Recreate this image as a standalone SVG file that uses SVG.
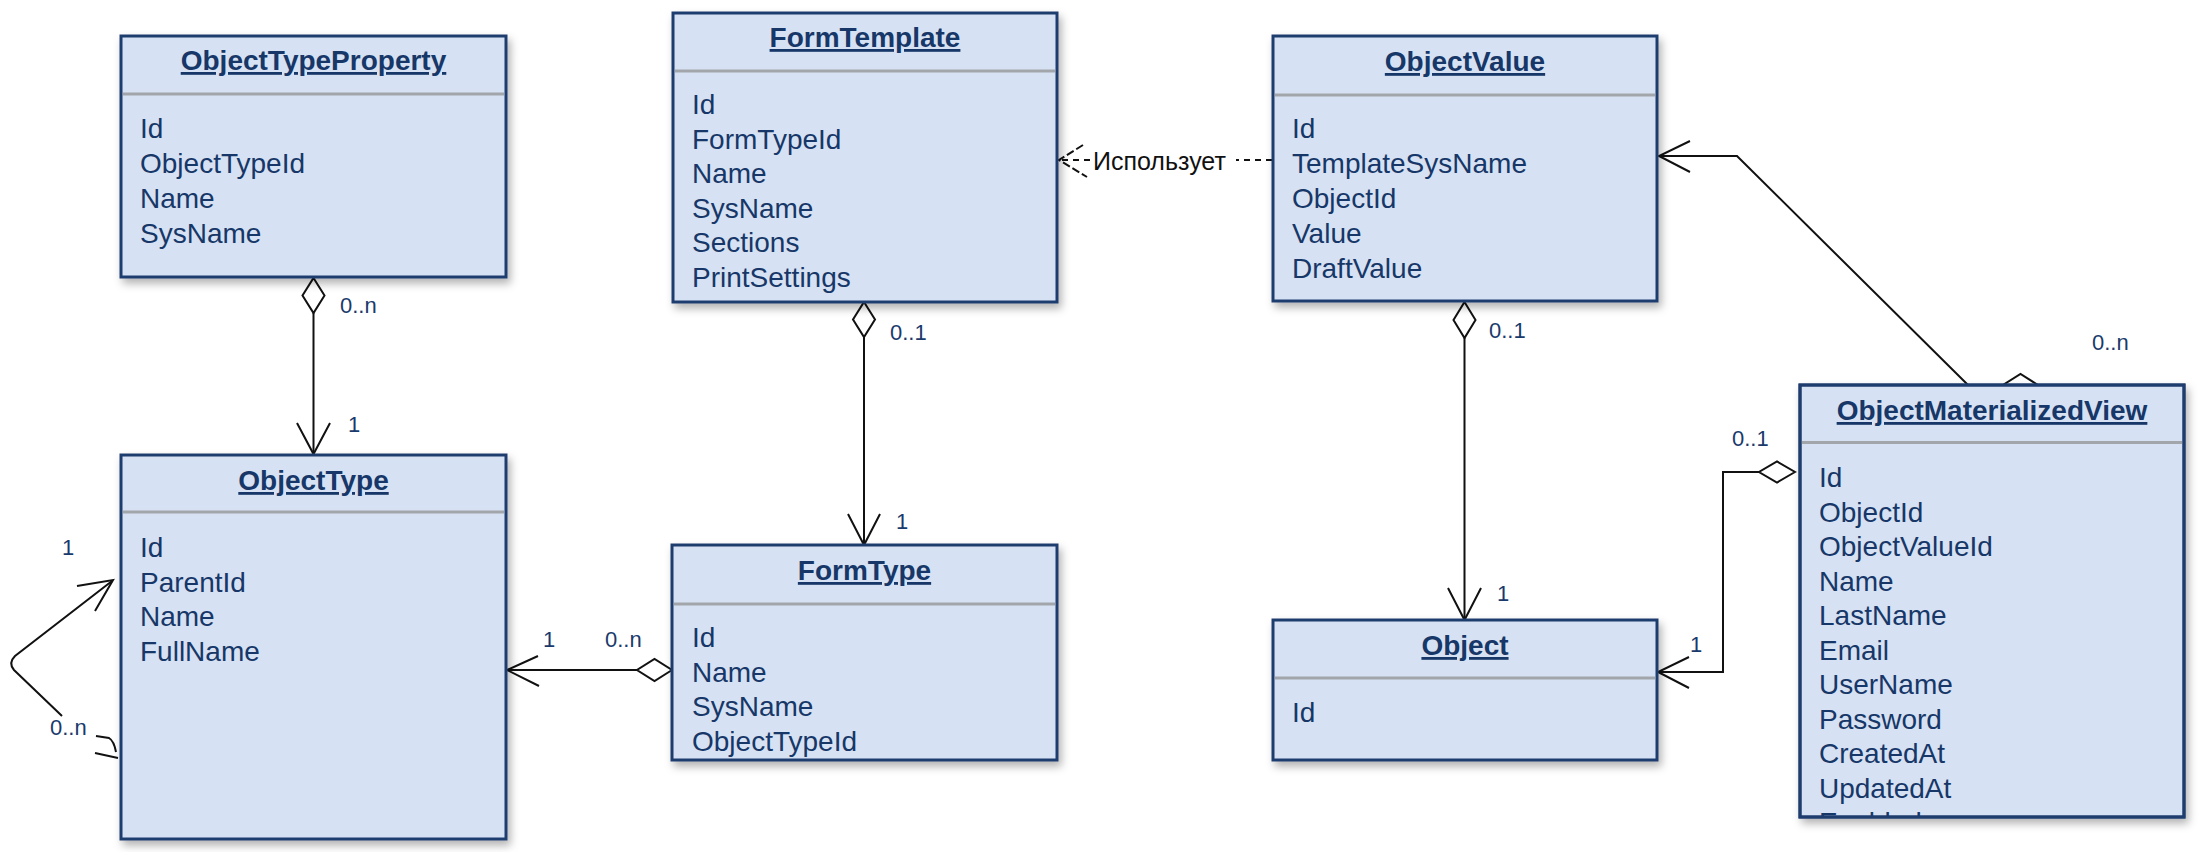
<svg xmlns="http://www.w3.org/2000/svg" width="2198" height="852" viewBox="0 0 2198 852">
<style>
.box{fill:#D6E2F3;stroke:#1E3D6E;stroke-width:3}
.sep{stroke:#A2A6AB;stroke-width:3}
.title{font-family:"Liberation Sans",Arial,sans-serif;font-size:28px;font-weight:bold;fill:#173768;text-anchor:middle;text-decoration:underline}
.attr{font-family:"Liberation Sans",Arial,sans-serif;font-size:28px;fill:#173768}
.edge{fill:none;stroke:#111;stroke-width:2}
.dash{fill:none;stroke:#111;stroke-width:2;stroke-dasharray:6 5}
.dia{fill:#fff;stroke:#111;stroke-width:2}
.mult{font-family:"Liberation Sans",Arial,sans-serif;font-size:22px;fill:#1A3A6C}
.elabel{font-family:"Liberation Sans",Arial,sans-serif;font-size:25px;fill:#111}
</style>
<defs>
<filter id="sh" x="-10%" y="-10%" width="125%" height="125%">
<feDropShadow dx="3" dy="5" stdDeviation="4" flood-color="#000" flood-opacity="0.3"/>
</filter>
<clipPath id="omvclip"><rect x="1800" y="385" width="384" height="431"/></clipPath>
</defs>

<g id="connectors">
<!-- ObjectTypeProperty -> ObjectType -->
<line class="edge" x1="313.5" y1="313" x2="313.5" y2="453"/>
<polygon class="dia" points="313.5,278 324.5,295.5 313.5,313 302.5,295.5"/>
<polyline class="edge" points="297,423 313.5,454 330,423"/>
<text class="mult" x="340" y="313">0..n</text>
<text class="mult" x="348" y="432">1</text>

<!-- FormTemplate -> FormType -->
<line class="edge" x1="864" y1="337" x2="864" y2="543"/>
<polygon class="dia" points="864,302 875,319.5 864,337 853,319.5"/>
<polyline class="edge" points="848,514 864,545 880,514"/>
<text class="mult" x="890" y="340">0..1</text>
<text class="mult" x="896" y="529">1</text>

<!-- FormType -> ObjectType -->
<line class="edge" x1="637" y1="670" x2="508" y2="670"/>
<polygon class="dia" points="672,670 654.5,681 637,670 654.5,659"/>
<polyline class="edge" points="538,656 507,670 539,686"/>
<text class="mult" x="543" y="647">1</text>
<text class="mult" x="605" y="647">0..n</text>

<!-- ObjectValue -> FormTemplate (dashed) -->
<line class="dash" x1="1272" y1="160" x2="1236" y2="160"/>
<line class="dash" x1="1090" y1="160" x2="1060" y2="160"/>
<polyline class="dash" style="stroke-dasharray:8 3" points="1083,145 1059,160 1087,177"/>
<text class="elabel" x="1093" y="170">Использует</text>

<!-- ObjectValue -> Object -->
<line class="edge" x1="1464.5" y1="338" x2="1464.5" y2="618"/>
<polygon class="dia" points="1464.5,302 1475.5,320 1464.5,338 1453.5,320"/>
<polyline class="edge" points="1448,588 1464.5,620 1481,588"/>
<text class="mult" x="1489" y="338">0..1</text>
<text class="mult" x="1497" y="601">1</text>

<!-- ObjectMaterializedView -> Object -->
<polyline class="edge" points="1759,472 1723,472 1723,672 1659,672"/>
<polygon class="dia" points="1795,472 1777,482.5 1759,472 1777,461.5"/>
<polyline class="edge" points="1689,657 1658,672 1689,688"/>
<text class="mult" x="1732" y="446">0..1</text>
<text class="mult" x="1690" y="652">1</text>

<!-- ObjectMaterializedView -> ObjectValue -->
<polyline class="edge" points="2003,385 1968,385 1737,156 1660,156"/>
<polygon class="dia" points="2038,385 2020.5,374 2003,385 2020.5,396"/>
<polyline class="edge" points="1690,141 1659,156 1690,172"/>
<text class="mult" x="2092" y="350">0..n</text>

<!-- ObjectType self reference -->
<path class="edge" d="M112,581 L15,656 Q8,663 14,670 L62,716"/>
<path class="edge" d="M96,736 L109,738 Q114,741 116,752 M95,753 L118,758"/>
<polyline class="edge" points="77,586 113,580 95,611"/>
<text class="mult" x="62" y="555">1</text>
<text class="mult" x="50" y="735">0..n</text>
</g>

<g id="ObjectTypeProperty">
<rect class="box" x="121" y="36" width="385" height="241" filter="url(#sh)"/>
<line class="sep" x1="123" y1="94" x2="504" y2="94"/>
<text class="title" x="313.5" y="70">ObjectTypeProperty</text>
<text class="attr" x="140" y="138">Id</text>
<text class="attr" x="140" y="173">ObjectTypeId</text>
<text class="attr" x="140" y="208">Name</text>
<text class="attr" x="140" y="243">SysName</text>
</g>

<g id="FormTemplate">
<rect class="box" x="673" y="13" width="384" height="289" filter="url(#sh)"/>
<line class="sep" x1="675" y1="71" x2="1055" y2="71"/>
<text class="title" x="865" y="47">FormTemplate</text>
<text class="attr" x="692" y="114">Id</text>
<text class="attr" x="692" y="148.5">FormTypeId</text>
<text class="attr" x="692" y="183">Name</text>
<text class="attr" x="692" y="217.5">SysName</text>
<text class="attr" x="692" y="252">Sections</text>
<text class="attr" x="692" y="286.5">PrintSettings</text>
</g>

<g id="ObjectValue">
<rect class="box" x="1273" y="36" width="384" height="265" filter="url(#sh)"/>
<line class="sep" x1="1275" y1="95" x2="1655" y2="95"/>
<text class="title" x="1465" y="71">ObjectValue</text>
<text class="attr" x="1292" y="138">Id</text>
<text class="attr" x="1292" y="173">TemplateSysName</text>
<text class="attr" x="1292" y="208">ObjectId</text>
<text class="attr" x="1292" y="243">Value</text>
<text class="attr" x="1292" y="277.5">DraftValue</text>
</g>

<g id="ObjectType">
<rect class="box" x="121" y="455" width="385" height="384" filter="url(#sh)"/>
<line class="sep" x1="123" y1="512" x2="504" y2="512"/>
<text class="title" x="313.5" y="490">ObjectType</text>
<text class="attr" x="140" y="557">Id</text>
<text class="attr" x="140" y="591.5">ParentId</text>
<text class="attr" x="140" y="626">Name</text>
<text class="attr" x="140" y="660.5">FullName</text>
</g>

<g id="FormType">
<rect class="box" x="672" y="545" width="385" height="215" filter="url(#sh)"/>
<line class="sep" x1="674" y1="604" x2="1055" y2="604"/>
<text class="title" x="864.5" y="580">FormType</text>
<text class="attr" x="692" y="647">Id</text>
<text class="attr" x="692" y="681.5">Name</text>
<text class="attr" x="692" y="716">SysName</text>
<text class="attr" x="692" y="750.5">ObjectTypeId</text>
</g>

<g id="Object">
<rect class="box" x="1273" y="620" width="384" height="140" filter="url(#sh)"/>
<line class="sep" x1="1275" y1="678" x2="1655" y2="678"/>
<text class="title" x="1465" y="655">Object</text>
<text class="attr" x="1292" y="722">Id</text>
</g>

<g id="ObjectMaterializedView">
<rect class="box" x="1800" y="385" width="384" height="432" filter="url(#sh)"/>
<line class="sep" x1="1802" y1="442.5" x2="2182" y2="442.5"/>
<text class="title" x="1992" y="420">ObjectMaterializedView</text>
<g clip-path="url(#omvclip)">
<text class="attr" x="1819" y="487">Id</text>
<text class="attr" x="1819" y="521.5">ObjectId</text>
<text class="attr" x="1819" y="556">ObjectValueId</text>
<text class="attr" x="1819" y="590.5">Name</text>
<text class="attr" x="1819" y="625">LastName</text>
<text class="attr" x="1819" y="659.5">Email</text>
<text class="attr" x="1819" y="694">UserName</text>
<text class="attr" x="1819" y="728.5">Password</text>
<text class="attr" x="1819" y="763">CreatedAt</text>
<text class="attr" x="1819" y="797.5">UpdatedAt</text>
<text class="attr" x="1819" y="832">Enabled</text>
</g>
<rect x="1800" y="385" width="384" height="432" fill="none" stroke="#1E3D6E" stroke-width="3"/>
</g>
</svg>
